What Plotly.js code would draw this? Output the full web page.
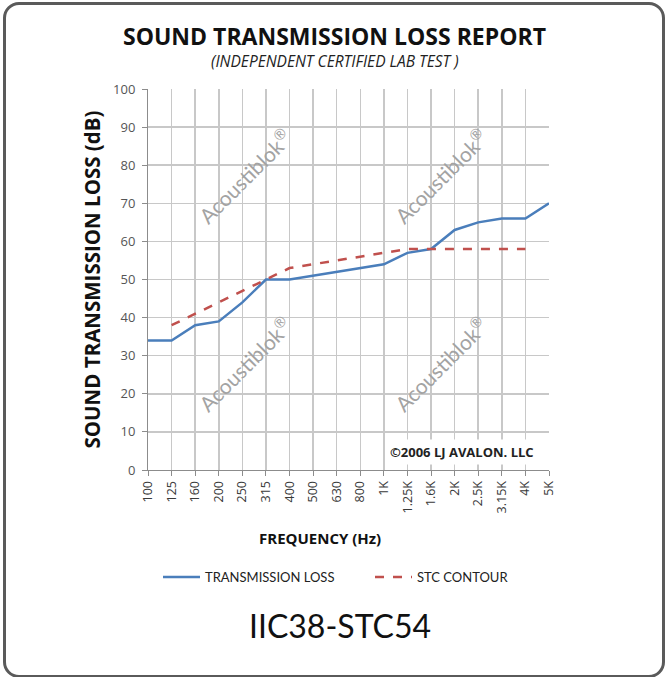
<!DOCTYPE html>
<html>
<head>
<meta charset="utf-8">
<script src="https://cdn.plot.ly/plotly-3.0.1.min.js"></script>
<style>
  html, body { margin: 0; padding: 0; background: #ffffff; }
  #frame { position: absolute; left: 3px; top: 2px; width: 662px; height: 676px;
           box-sizing: border-box; border: 3px solid #5a5a5a; border-radius: 16px; }
  #chart { position: absolute; left: 0; top: 0; width: 666px; height: 677px; }
</style>
</head>
<body>
<div id="frame"></div>
<div id="chart"></div>
<script>
const frequencies = ["100","125","160","200","250","315","400","500","630","800","1K","1.25K","1.6K","2K","2.5K","3.15K","4K","5K"];
const transmissionLoss = [34,34,38,39,44,50,50,51,52,53,54,57,58,63,65,66,66,70];
const stcFrequencies = ["125","160","200","250","315","400","500","630","800","1K","1.25K","1.6K","2K","2.5K","3.15K","4K"];
const stcContour = [38,41,44,47,50,53,54,55,56,57,58,58,58,58,58,58];
const yTicks = [0,10,20,30,40,50,60,70,80,90,100];

const FONT = "'Open Sans', 'Noto Sans', sans-serif";
const PL = 148, PR = 549, PT = 89, PB = 470;
const px = v => (v - PL) / (PR - PL);
const py = v => (PB - v) / (PB - PT);

const traces = [
  { x: frequencies, y: transmissionLoss, type: "scatter", mode: "lines",
    name: "TRANSMISSION LOSS", legend: "legend", line: { color: "#4a7ebb", width: 2.5 } },
  { x: stcFrequencies, y: stcContour, type: "scatter", mode: "lines",
    name: "STC CONTOUR", legend: "legend2", line: { color: "#c0504d", width: 2.5, dash: "dash" } }
];

const wm = { text: "Acoustiblok<sup>®</sup>", xref: "paper", yref: "paper", showarrow: false,
             xanchor: "center", yanchor: "middle",
             textangle: -45, font: { family: "'Lato', sans-serif", size: 21, color: "#a3a3a3" } };

const legendFont = { family: "'Lato', sans-serif", size: 13, color: "#222" };

const layout = {
  width: 666, height: 677,
  paper_bgcolor: "rgba(0,0,0,0)", plot_bgcolor: "#ffffff",
  margin: { l: PL, r: 666 - PR, t: PT, b: 677 - PB },
  showlegend: true,
  legend: { orientation: "h", x: px(158), y: py(577), xanchor: "left", yanchor: "middle",
            font: legendFont, itemwidth: 37 },
  legend2: { orientation: "h", x: px(370), y: py(577), xanchor: "left", yanchor: "middle",
            font: legendFont, itemwidth: 37 },
  xaxis: {
    type: "category", categoryorder: "array", categoryarray: frequencies,
    range: [0, 17], tickangle: -90,
    showgrid: true, gridcolor: "#c8c8c8", gridwidth: 1.5,
    showline: true, linecolor: "#8c8c8c", linewidth: 1,
    ticks: "outside", ticklen: 5, tickcolor: "#8c8c8c",
    tickfont: { family: FONT, size: 12.5, color: "#3a3a3a" }
  },
  yaxis: {
    range: [0, 100], tickvals: yTicks,
    showgrid: true, gridcolor: "#c8c8c8", gridwidth: 1.5,
    showline: true, linecolor: "#8c8c8c", linewidth: 1,
    ticks: "outside", ticklen: 5, tickcolor: "#8c8c8c", ticklabelstandoff: 4,
    tickfont: { family: FONT, size: 13, color: "#555" },
    title: { text: "<b>SOUND TRANSMISSION LOSS (dB)</b>", font: { family: FONT, size: 20.5, color: "#111" }, standoff: 6 },
    zeroline: false
  },
  annotations: [
    { text: "<b>SOUND TRANSMISSION LOSS REPORT</b>", xref: "paper", yref: "paper",
      x: px(334), y: py(36), showarrow: false, xanchor: "center", yanchor: "middle",
      font: { family: FONT, size: 23, color: "#111" } },
    { text: "<i>(INDEPENDENT CERTIFIED LAB TEST )</i>", xref: "paper", yref: "paper",
      x: px(335), y: py(61), showarrow: false, xanchor: "center", yanchor: "middle",
      font: { family: FONT, size: 15.5, color: "#222" } },
    { text: "<b>FREQUENCY (Hz)</b>", xref: "paper", yref: "paper",
      x: px(320), y: py(538), showarrow: false, xanchor: "center", yanchor: "middle",
      font: { family: FONT, size: 15, color: "#111" } },
    { text: "<b>©2006 LJ AVALON. LLC</b>", xref: "paper", yref: "paper",
      x: px(462), y: py(452), showarrow: false, xanchor: "center", yanchor: "middle",
      bgcolor: "#ffffff", borderpad: 3,
      font: { family: FONT, size: 13, color: "#222" } },
    { text: "IIC38-STC54", xref: "paper", yref: "paper",
      x: px(340), y: py(625), showarrow: false, xanchor: "center", yanchor: "middle",
      font: { family: "'Lato', sans-serif", size: 32, color: "#111" } },
    Object.assign({}, wm, { x: px(244), y: py(176) }),
    Object.assign({}, wm, { x: px(440), y: py(176) }),
    Object.assign({}, wm, { x: px(244), y: py(364) }),
    Object.assign({}, wm, { x: px(440), y: py(364) })
  ]
};

Plotly.newPlot("chart", traces, layout, { displayModeBar: false, staticPlot: true });
</script>
</body>
</html>
